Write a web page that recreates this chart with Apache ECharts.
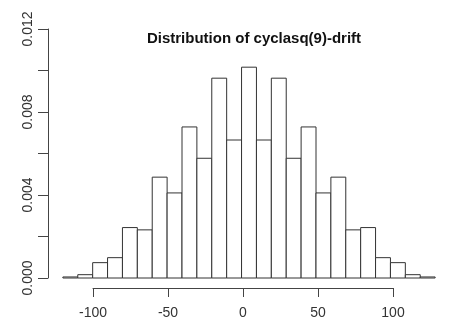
<!DOCTYPE html>
<html>
<head>
<meta charset="utf-8">
<script src="https://cdn.jsdelivr.net/npm/echarts@6/dist/echarts.min.js"></script>
<style>
  html, body { margin: 0; padding: 0; background: #fff; }
  #chart { width: 450px; height: 331px; }
</style>
</head>
<body>
<div id="chart"></div>
<script>
// Histogram bin edges (width 10) and density of each bin
const breaks = [-120, -110, -100, -90, -80, -70, -60, -50, -40, -30, -20, -10, 0,
                10, 20, 30, 40, 50, 60, 70, 80, 90, 100, 110, 120, 130];
const density = [0.00005, 0.00016, 0.00074, 0.00098, 0.00243, 0.00232, 0.00486,
                 0.00410, 0.00728, 0.00577, 0.00963, 0.00665, 0.01016, 0.00665,
                 0.00963, 0.00577, 0.00728, 0.00410, 0.00486, 0.00232, 0.00243,
                 0.00098, 0.00074, 0.00016, 0.00005];
const xTicks = [-100, -50, 0, 50, 100];
const yTicks = [0, 0.002, 0.004, 0.006, 0.008, 0.010, 0.012];
const titleText = 'Distribution of cyclasq(9)-drift';

const bins = density.map((d, i) => [breaks[i], breaks[i + 1], d]);

const axisColor = '#444';
const labelFont = { fontFamily: 'Liberation Sans, Arial, sans-serif', fontSize: 14, color: '#333' };

const chart = echarts.init(document.getElementById('chart'), null, { renderer: 'canvas' });

chart.setOption({
  animation: false,
  backgroundColor: '#fff',
  title: {
    text: titleText,
    left: 249,
    top: 26,
    textAlign: 'center',
    textStyle: {
      fontFamily: 'Liberation Sans, Arial, sans-serif',
      fontWeight: 'bold',
      fontSize: 15,
      color: '#111'
    }
  },
  grid: [
    // plotting region: x from -130 to 140, y from 0 to 0.012
    { left: 48, width: 405, top: 29, height: 249 },
    // separate strip carrying the x axis, which spans only the tick range
    { left: 93, width: 300, top: 278, height: 10 }
  ],
  xAxis: [
    {
      gridIndex: 0, type: 'value', min: -130, max: 140,
      show: false
    },
    {
      gridIndex: 1, type: 'value', min: xTicks[0], max: xTicks[xTicks.length - 1],
      interval: 50, position: 'bottom',
      axisLine: { show: true, onZero: false, lineStyle: { color: axisColor, width: 1 } },
      axisTick: { show: true, length: 9, lineStyle: { color: axisColor, width: 1 } },
      axisLabel: Object.assign({ margin: 18 }, labelFont),
      splitLine: { show: false }
    }
  ],
  yAxis: [
    {
      gridIndex: 0, type: 'value', min: yTicks[0], max: yTicks[yTicks.length - 1],
      interval: 0.002, position: 'left',
      axisLine: { show: true, onZero: false, lineStyle: { color: axisColor, width: 1 } },
      axisTick: { show: true, length: 10, lineStyle: { color: axisColor, width: 1 } },
      axisLabel: Object.assign({
        rotate: 90,
        margin: 13,
        formatter: (v, idx) => (idx % 2 === 0 ? v.toFixed(3) : '')
      }, labelFont),
      splitLine: { show: false }
    },
    { gridIndex: 1, type: 'value', show: false, min: 0, max: 1 }
  ],
  series: [
    {
      type: 'custom',
      xAxisIndex: 0,
      yAxisIndex: 0,
      data: bins,
      encode: { x: [0, 1], y: 2 },
      renderItem: function (params, api) {
        const topLeft = api.coord([api.value(0), api.value(2)]);
        const bottomRight = api.coord([api.value(1), 0]);
        return {
          type: 'rect',
          shape: {
            x: topLeft[0],
            y: topLeft[1],
            width: bottomRight[0] - topLeft[0],
            height: bottomRight[1] - topLeft[1]
          },
          style: { fill: '#fff', stroke: '#333', lineWidth: 1 }
        };
      }
    }
  ]
});
</script>
</body>
</html>
